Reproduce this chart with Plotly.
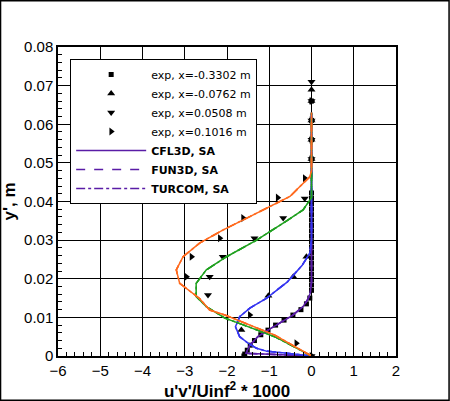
import plotly.graph_objects as go

# CFD profiles (u'v'/Uinf^2*1000 vs y'), one per station
s1_y = [0, 0.0007, 0.0028, 0.005, 0.0067, 0.0085, 0.0106, 0.0128, 0.0148, 0.0163, 0.019, 0.03, 0.045, 0.063]
s1_x = [0, -1.55, -1.46, -1.27, -1.03, -0.75, -0.44, -0.2, -0.08, -0.03, 0, 0, 0, 0]

s2_y = [0, 0.0004, 0.0008, 0.0012, 0.002, 0.0033, 0.005, 0.0076, 0.0102, 0.0124, 0.015, 0.0192, 0.0235, 0.0266, 0.03, 0.063]
s2_x = [0, -0.3, -0.63, -1.05, -1.3, -1.5, -1.7, -1.8, -1.7, -1.46, -1.06, -0.57, -0.22, -0.04, 0, 0]

s3_y = [0, 0.005, 0.008, 0.0098, 0.0128, 0.0154, 0.0188, 0.0223, 0.0257, 0.030, 0.0344, 0.0378, 0.041, 0.063]
s3_x = [0, -0.87, -1.6, -2.05, -2.49, -2.73, -2.73, -2.49, -2.01, -1.3, -0.67, -0.2, 0, 0]

s4_y = [0, 0.0054, 0.0106, 0.0119, 0.0149, 0.0162, 0.0188, 0.0223, 0.0257, 0.0292, 0.0326, 0.0361, 0.0387, 0.0400, 0.0413, 0.0438, 0.0464, 0.048, 0.063]
s4_x = [0, -0.87, -2.05, -2.41, -2.65, -2.8, -3.12, -3.2, -3.04, -2.65, -2.1, -1.46, -0.99, -0.75, -0.51, -0.28, -0.04, 0, 0]

# experiment
e1_y = [0, 0.0005, 0.0015, 0.0028, 0.004, 0.0055, 0.0067, 0.008, 0.0093, 0.0106, 0.012, 0.0135, 0.015,
        0.017, 0.0184, 0.0198, 0.0212, 0.0226, 0.024, 0.0254, 0.0268, 0.0282, 0.0296, 0.031, 0.0324,
        0.0338, 0.0352, 0.0366, 0.038, 0.0394, 0.0408, 0.0422, 0.051, 0.056, 0.061, 0.066]
e1_x = [-1.6, -1.58, -1.52, -1.45, -1.35, -1.2, -1.03, -0.85, -0.65, -0.44, -0.25, -0.12, -0.04,
        0, 0, 0, 0, 0, 0, 0, 0, 0, 0, 0, 0,
        0, 0, 0, 0, 0, 0, 0, 0, 0, 0, 0]

e2_y = [0, 0.0067, 0.0156, 0.0205, 0.0257, 0.051, 0.056, 0.061, 0.066, 0.0689]
e2_x = [0, -1.66, -1.02, -0.43, -0.12, 0, 0, 0, 0, 0]

e3_y = [0, 0.0158, 0.0205, 0.0257, 0.0305, 0.0357, 0.0408, 0.051, 0.056, 0.061, 0.066, 0.071]
e3_x = [0, -2.45, -2.41, -2.1, -1.35, -0.67, -0.16, 0, 0, 0, 0, 0]

e4_y = [0, 0.0033, 0.0106, 0.0205, 0.0257, 0.0305, 0.0357, 0.041, 0.046, 0.051, 0.056, 0.061, 0.066]
e4_x = [0, -0.36, -1.46, -2.96, -2.84, -2.17, -1.62, -0.8, -0.16, 0, 0, 0, 0]

exp_names = ["exp, x=-0.3302 m", "exp, x=-0.0762 m", "exp, x=0.0508 m", "exp, x=0.1016 m"]
exp_symbols = ["square", "triangle-up", "triangle-down", "triangle-right"]
exp_sizes = [5, 7, 7, 7]
codes = ["CFL3D, SA", "FUN3D, SA", "TURCOM, SA"]
dashes = ["solid", "dash", "dashdot"]
colors = ["#5a1ca6", "#3535f0", "#1fa01f", "#ff6a1e"]

fig = go.Figure()

exp_data = [(e1_x, e1_y), (e2_x, e2_y), (e3_x, e3_y), (e4_x, e4_y)]
for (ex, ey), name, sym, sz in zip(exp_data, exp_names, exp_symbols, exp_sizes):
    fig.add_trace(go.Scatter(x=ex, y=ey, mode="markers", name=name,
                             marker=dict(symbol=sym, size=sz, color="black")))

cfd_data = [(s1_x, s1_y), (s2_x, s2_y), (s3_x, s3_y), (s4_x, s4_y)]
for i, ((cx, cy), col) in enumerate(zip(cfd_data, colors)):
    for code, dash in zip(codes, dashes):
        fig.add_trace(go.Scatter(x=cx, y=cy, mode="lines", name="<b>" + code + "</b>",
                                 line=dict(color=col, width=1.5, dash=dash),
                                 showlegend=(i == 0)))

axis_common = dict(showgrid=True, gridcolor="black", gridwidth=1, zeroline=False,
                   showline=True, linecolor="black", linewidth=1.5, mirror=True,
                   ticks="inside", ticklen=8, tickcolor="black", automargin=False,
                   tickfont=dict(family="Liberation Sans", size=15, color="black"),
                   minor=dict(ticks="inside", ticklen=4, tickcolor="black", showgrid=False))

fig.update_xaxes(range=[-6, 2], dtick=1, minor_dtick=0.2,
                 title=dict(text="<b>u'v'/Uinf<sup>2</sup> * 1000</b>", standoff=4,
                            font=dict(family="Liberation Sans", size=17, color="black")),
                 **axis_common)
fig.update_yaxes(range=[0, 0.08], dtick=0.01, minor_dtick=0.002, tickformat=".2~f",
                 title=dict(text="<b>y', m</b>", standoff=4,
                            font=dict(family="Liberation Sans", size=17, color="black")),
                 **axis_common)

fig.update_layout(
    width=450, height=401,
    margin=dict(l=58, r=54, t=47, b=45),
    plot_bgcolor="white", paper_bgcolor="white",
    legend=dict(x=0.036, y=0.961, xanchor="left", yanchor="top",
                bgcolor="white", bordercolor="black", borderwidth=1,
                font=dict(family="DejaVu Sans", size=11, color="black"),
                itemwidth=70, tracegroupgap=0),
    shapes=[dict(type="rect", xref="paper", yref="paper",
                 x0=-0.17, x1=1.157, y0=-0.143, y1=1.15,
                 line=dict(color="black", width=1.5))],
)

# drop the page's default 8px body margin so the figure sits at the window corner
fig.write_html("out.html", config={"displayModeBar": False},
               post_script="document.body.style.margin='0';")
